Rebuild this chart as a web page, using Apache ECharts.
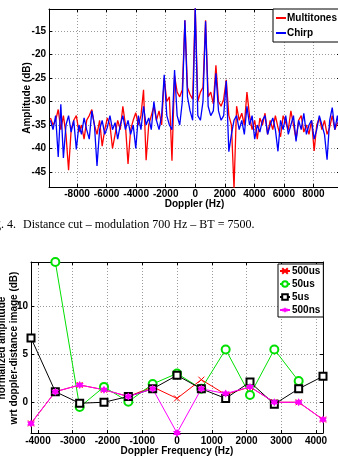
<!DOCTYPE html>
<html>
<head>
<meta charset="utf-8">
<script src="https://cdn.jsdelivr.net/npm/echarts@6/dist/echarts.min.js"></script>
<style>
html, body { margin: 0; padding: 0; background: #fff; }
#chart { width: 338px; height: 459px; }
</style>
</head>
<body>
<div id="chart"></div>
<script>
// upper plot: amplitude (dB) per doppler bin, bins every 175 Hz starting at -9800 Hz
const binStart = -9800;
const binStep = 175;
const multitones = [
  -33.5, -35, -34, -31.7, -36, -33, -37, -44.6, -36, -34,
  -33, -36.5, -35, -38, -34, -33, -31.7, -35, -37, -34,
  -39.5, -36, -33.5, -35, -40, -37, -34, -36, -31, -35,
  -43.3, -36, -34, -32.4, -35, -33, -27.5, -42.5, -35, -33,
  -31, -34, -32, -35, -25, -30, -29, -42.6, -24.5, -28,
  -29, -27.5, -12.7, -27, -28.5, -29.5, -10, -30, -28, -27,
  -12.7, -29, -28, -30.5, -22.3, -30, -31, -29.5, -25.4, -33,
  -35, -48.5, -31, -34, -32.5, -35, -28, -33, -36, -34,
  -38, -33.5, -35, -32.5, -37, -34, -36, -33, -35.5, -37.5,
  -33, -34.5, -36, -32, -35, -38, -34, -33, -36.5, -35,
  -37, -34, -40.5, -35, -33.5, -36, -34, -37, -35.5, -33,
  -36, -34.5, -35
];
const chirp = [
  -34, -36, -33, -41.8, -30.6, -42, -35, -33, -36.5, -34,
  -40.2, -35, -37, -33.5, -36, -38, -32, -35, -43.7, -36,
  -34, -37, -35.5, -33, -36, -34.5, -38, -35, -33, -36,
  -34, -37, -35, -40, -33, -36, -31, -35, -33.5, -36,
  -30, -34, -36, -33, -24.3, -33, -35, -36, -23.3, -33,
  -35, -30, -12.7, -29, -32, -34, -10, -33, -34, -30,
  -12.9, -31, -33, -32, -24, -32, -34, -33, -25.6, -40.7,
  -37, -34, -33, -36, -34, -37, -31, -35, -33, -38,
  -35, -36.5, -34, -33, -37, -35, -33.5, -36, -40.6, -34,
  -36, -33, -37, -35, -33, -38.5, -34, -36, -32.5, -37,
  -35, -34, -38, -36, -33, -35, -37, -42.4, -34, -31.3,
  -36, -33, -38
];

// lower plot
const dopplerFreq = [-4200, -3500, -2800, -2100, -1400, -700, 0, 700, 1400, 2100, 2800, 3500, 4200];
const s500us = [-2.2, 1.1, 1.8, 1.3, 0.6, 1.6, 0.4, 2.35, 0.8, 1.6, 0.0, 0.0, -1.8];
const s50us = [null, 14.6, -0.5, 1.6, 0.05, 1.9, 3.0, 1.4, 5.5, 0.75, 5.5, 2.2, null];
const s5us = [6.7, 1.1, -0.1, 0.0, 0.6, 1.4, 2.8, 1.4, 0.4, 2.1, -0.2, 1.4, 2.7];
const s500ns = [-2.2, 1.1, 1.8, 1.3, 0.6, 1.4, -3.2, 1.4, 0.9, 1.6, 0.0, 0.0, -1.8];

const font = 'Liberation Sans';
const txt = { color: '#000', fontFamily: font, fontWeight: 'bold', fontSize: 10 };
const gridLine = { show: true, lineStyle: { color: '#9a9a9a', width: 1, type: [1, 2] } };
const blackLine = { show: true, onZero: false, lineStyle: { color: '#000', width: 1 } };
const inTick = { show: true, inside: true, length: 3, lineStyle: { color: '#000' } };

function binPairs(vals) {
  return vals.map(function (v, i) { return [binStart + i * binStep, v]; });
}
function pairs(xs, ys) {
  return ys.map(function (v, i) { return [xs[i], v]; });
}
function plain(v) { return String(v); }
function labels(margin) {
  return Object.assign({ margin: margin, showMinLabel: false, showMaxLabel: false, formatter: plain }, txt);
}
// mirror axis on the other side of the box: ticks only
function mirror(grid, pos, min, max, split) {
  return {
    type: 'value', gridIndex: grid, position: pos, min: min, max: max, splitNumber: split,
    axisLine: blackLine, axisTick: inTick, axisLabel: { show: false }, splitLine: { show: false }
  };
}

const star6 = 'path://M0,-10L2.89,-5L8.66,-5L5.77,0L8.66,5L2.89,5L0,10L-2.89,5L-8.66,5L-5.77,0L-8.66,-5L-2.89,-5Z';
const xMark = 'path://M0,0L10,10M0,10L10,0';

const chart = echarts.init(document.getElementById('chart'));

var option = {
  backgroundColor: '#fff',
  animation: false,
  grid: [
    { left: 49, top: 9, width: 291, height: 178, outerBoundsMode: 'none' },
    { left: 31, top: 262, width: 292, height: 171, outerBoundsMode: 'none' }
  ],
  legend: [
    {
      data: ['Multitones', 'Chirp'],
      orient: 'vertical', left: 273, top: 9, icon: 'rect',
      backgroundColor: '#fff', borderColor: '#000', borderWidth: 1,
      padding: [4, 6, 4, 3], itemGap: 5, itemWidth: 10, itemHeight: 2,
      textStyle: Object.assign({}, txt, { padding: [0, 0, 0, -4] })
    },
    {
      data: ['500us', '50us', '5us', '500ns'],
      orient: 'vertical', left: 278, top: 264,
      backgroundColor: '#fff', borderColor: '#000', borderWidth: 1,
      padding: [2, 3, 2, 1], itemGap: 3, itemWidth: 10, itemHeight: 7,
      textStyle: Object.assign({}, txt, { padding: [0, 0, 0, -3] })
    }
  ],
  xAxis: [
    {
      type: 'value', gridIndex: 0, position: 'bottom', min: -9900, max: 9800, splitNumber: 10,
      axisLine: blackLine, axisTick: inTick, axisLabel: labels(2), splitLine: gridLine,
      name: 'Doppler (Hz)', nameLocation: 'middle', nameGap: 12, nameMoveOverlap: false, nameTextStyle: txt
    },
    mirror(0, 'top', -9900, 9800, 10),
    {
      type: 'value', gridIndex: 1, position: 'bottom', min: -4200, max: 4200, splitNumber: 8,
      axisLine: blackLine, axisTick: inTick, axisLabel: labels(3), splitLine: gridLine,
      name: 'Doppler Frequency (Hz)', nameLocation: 'middle', nameGap: 13, nameMoveOverlap: false, nameTextStyle: txt
    },
    mirror(1, 'top', -4200, 4200, 8)
  ],
  yAxis: [
    {
      type: 'value', gridIndex: 0, position: 'left', min: -48.2, max: -10.3, splitNumber: 8,
      axisLine: blackLine, axisTick: inTick, axisLabel: labels(3), splitLine: gridLine,
      name: 'Amplitude (dB)', nameLocation: 'middle', nameGap: 17, nameMoveOverlap: false, nameTextStyle: txt
    },
    mirror(0, 'right', -48.2, -10.3, 8),
    {
      type: 'value', gridIndex: 1, position: 'left', min: -3.2, max: 14.6, splitNumber: 4,
      axisLine: blackLine, axisTick: inTick, axisLabel: labels(3), splitLine: gridLine
    },
    mirror(1, 'right', -3.2, 14.6, 4)
  ],
  series: [
    {
      name: 'Multitones', type: 'line', xAxisIndex: 0, yAxisIndex: 0, symbol: 'none',
      data: binPairs(multitones), lineStyle: { color: '#ff0000', width: 1.3 }, itemStyle: { color: '#ff0000' }
    },
    {
      name: 'Chirp', type: 'line', xAxisIndex: 0, yAxisIndex: 0, symbol: 'none',
      data: binPairs(chirp), lineStyle: { color: '#0000ff', width: 1.3 }, itemStyle: { color: '#0000ff' }
    },
    {
      name: '500us', type: 'line', xAxisIndex: 2, yAxisIndex: 2, symbol: xMark, symbolSize: 6,
      data: pairs(dopplerFreq, s500us), lineStyle: { color: '#ff0000', width: 1 },
      itemStyle: { color: '#ff0000', borderColor: '#ff0000', borderWidth: 1 }
    },
    {
      name: '50us', type: 'line', xAxisIndex: 2, yAxisIndex: 2, symbol: 'emptyCircle', symbolSize: 8,
      data: pairs(dopplerFreq, s50us), lineStyle: { color: '#00e000', width: 1 },
      itemStyle: { color: '#00e000', borderWidth: 1 }
    },
    {
      name: '5us', type: 'line', xAxisIndex: 2, yAxisIndex: 2, symbol: 'emptyRect', symbolSize: 7,
      data: pairs(dopplerFreq, s5us), lineStyle: { color: '#000', width: 1 },
      itemStyle: { color: '#000', borderWidth: 1 }
    },
    {
      name: '500ns', type: 'line', xAxisIndex: 2, yAxisIndex: 2, symbol: star6, symbolSize: 8,
      data: pairs(dopplerFreq, s500ns), lineStyle: { color: '#ff00ff', width: 1 },
      itemStyle: { color: '#ff00ff' }
    }
  ],
  graphic: [
    {
      type: 'text', x: 16, y: 219,
      style: { text: 'Fig. 4.', align: 'right', font: '12px "Liberation Serif"', fill: '#000' }
    },
    {
      type: 'text', x: 23, y: 219,
      style: { text: 'Distance cut \u2013 modulation 700 Hz \u2013 BT = 7500.', font: '12px "Liberation Serif"', fill: '#000' }
    },
    {
      // y title of the lower plot, left line cropped by the page edge as in the scan
      type: 'text', x: 8, y: 348, rotation: Math.PI / 2,
      style: {
        text: 'normalized amplitude\nwrt doppler-distance image (dB)',
        align: 'center', verticalAlign: 'middle', lineHeight: 12,
        font: 'bold 10px "Liberation Sans"', fill: '#000'
      }
    }
  ]
};

chart.setOption(option);
</script>
</body>
</html>
